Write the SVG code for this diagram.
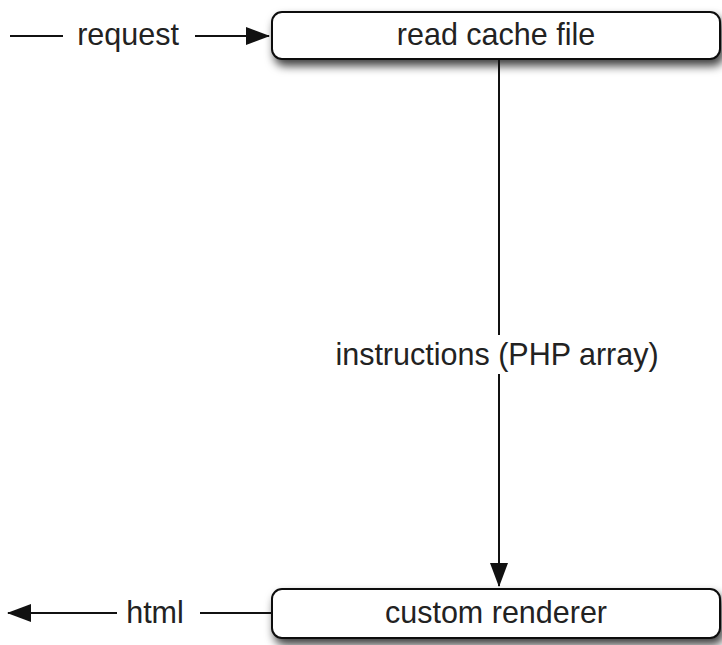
<svg xmlns="http://www.w3.org/2000/svg" width="722" height="645" viewBox="0 0 722 645">
<style>
.box{fill:#fff;stroke:#111;stroke-width:2;filter:url(#sh)}
.t{font-family:"Liberation Sans",Arial,sans-serif;font-size:30.5px;fill:#222}
.ln{stroke:#111;stroke-width:2;fill:none}
</style>
<defs>
<filter id="sh" x="-10%" y="-30%" width="125%" height="180%">
<feDropShadow dx="3" dy="6" stdDeviation="5" flood-color="#000" flood-opacity="0.75"/>
</filter>
<marker id="ahl" markerWidth="24" markerHeight="18" refX="23" refY="9" orient="auto" markerUnits="userSpaceOnUse" viewBox="0 0 24 18">
<path d="M0,0 L24,9 L0,18 Z" fill="#111"/>
</marker>
</defs>
<g id="n1">
<rect class="box" x="272" y="12" width="448" height="47" rx="10"/>
<text class="t" x="496" y="45" text-anchor="middle">read cache file</text>
</g>
<g id="n2">
<rect class="box" x="272" y="589" width="448" height="49" rx="10"/>
<text class="t" x="496" y="623" text-anchor="middle">custom renderer</text>
</g>
<g id="connectors">
<line class="ln" x1="10" y1="36" x2="63" y2="36"/>
<text class="t" x="128" y="45" text-anchor="middle">request</text>
<line class="ln" x1="195" y1="36" x2="269" y2="36" marker-end="url(#ahl)"/>
<line class="ln" x1="499" y1="60" x2="499" y2="335"/>
<text class="t" x="497" y="365" text-anchor="middle">instructions (PHP array)</text>
<line class="ln" x1="499" y1="374" x2="499" y2="586" marker-end="url(#ahl)"/>
<line class="ln" x1="272" y1="613" x2="200" y2="613"/>
<text class="t" x="155" y="623" text-anchor="middle">html</text>
<line class="ln" x1="117" y1="613" x2="8" y2="613" marker-end="url(#ahl)"/>
</g>
</svg>
